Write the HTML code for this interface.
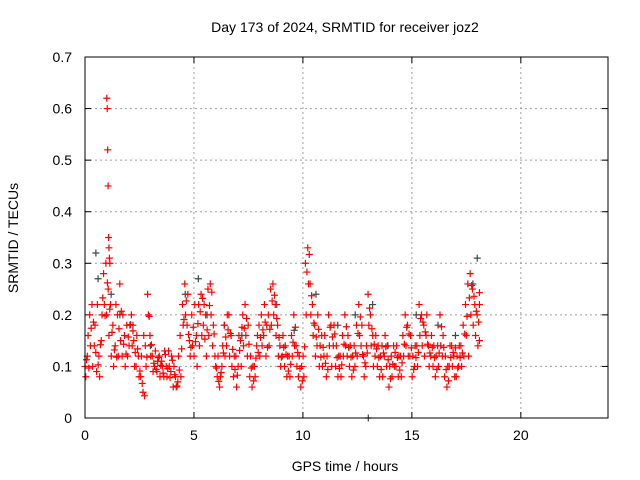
<!DOCTYPE html>
<html><head><meta charset="utf-8"><style>
body{margin:0;background:#fff;}
svg{display:block;font-family:"Liberation Sans",sans-serif;}
</style></head><body>
<svg id="chart" width="640" height="480">
<text x="345" y="32" font-size="14" text-anchor="middle">Day 173 of 2024, SRMTID for receiver joz2</text>
<text x="345" y="471" font-size="14" text-anchor="middle">GPS time / hours</text>
<text transform="translate(18,238) rotate(-90)" font-size="14" text-anchor="middle">SRMTID / TECUs</text>
<g id="grid"></g>
<g id="ticks"></g>
<g id="gray"></g>
<g id="red"></g>
<rect x="85" y="57" width="523" height="361" fill="none" stroke="#000" stroke-width="1"/>
</svg>
<script>
const xTicks=[0,5,10,15,20];
const yTicks=[0,0.1,0.2,0.3,0.4,0.5,0.6,0.7];
const yTickLabels=["0","0.1","0.2","0.3","0.4","0.5","0.6","0.7"];
const seriesStart=0;
const seriesEnd=18.1;
const red1=[0.10,0.12,0.20,0.22,0.14,0.09,0.12,0.15,0.28,0.30,0.25,0.22,0.18,0.14,0.20,0.26,0.12,0.16,0.18,0.14,0.20,0.15,0.10,0.12,0.08,0.05,0.14,0.24,0.16,0.12,
0.10,0.09,0.12,0.11,0.08,0.10,0.13,0.09,0.06,0.08,0.07,0.16,0.22,0.26,0.18,0.15,0.20,0.12,0.16,0.22,0.24,0.18,0.20,0.25,0.26,0.14,0.12,0.08,0.06,0.10,
0.18,0.14,0.20,0.16,0.08,0.12,0.10,0.15,0.20,0.22,0.12,0.08,0.06,0.10,0.14,0.18,0.20,0.16,0.12,0.20,0.25,0.26,0.22,0.18,0.14,0.12,0.10,0.08,0.12,0.16,
0.20,0.14,0.08,0.06,0.12,0.30,0.33,0.26,0.22,0.18,0.14,0.10,0.16,0.12,0.08,0.20,0.18,0.14,0.10,0.08,0.12,0.16,0.20,0.12,0.10,0.08,0.14,0.18,0.22,0.14,
0.12,0.10,0.24,0.20,0.16,0.12,0.10,0.08,0.14,0.12,0.10,0.06,0.12,0.14,0.10,0.08,0.12,0.16,0.20,0.18,0.12,0.08,0.10,0.14,0.22,0.20,0.18,0.16,0.14,0.12,
0.10,0.08,0.14,0.20,0.12,0.08,0.06,0.10,0.14,0.12,0.08,0.10,0.14,0.18,0.22,0.26,0.28,0.25,0.22,0.20,0.22];
const red2=[0.08,0.16,0.14,0.10,0.18,0.22,0.08,0.20,0.22,0.20,0.16,0.12,0.10,0.22,0.12,0.15,0.20,0.10,0.12,0.18,0.14,0.10,0.16,0.08,0.12,0.16,0.10,0.20,0.12,0.09,
0.13,0.11,0.08,0.10,0.13,0.08,0.10,0.12,0.10,0.06,0.12,0.08,0.18,0.20,0.24,0.12,0.14,0.22,0.10,0.14,0.16,0.22,0.12,0.16,0.20,0.18,0.10,0.12,0.08,0.14,
0.12,0.20,0.12,0.10,0.12,0.06,0.16,0.10,0.14,0.16,0.18,0.12,0.10,0.08,0.16,0.12,0.14,0.22,0.18,0.14,0.18,0.20,0.16,0.12,0.10,0.16,0.14,0.12,0.08,0.12,
0.14,0.10,0.12,0.10,0.08,0.20,0.26,0.20,0.16,0.12,0.20,0.14,0.10,0.16,0.12,0.14,0.10,0.18,0.14,0.12,0.08,0.12,0.14,0.16,0.14,0.12,0.10,0.12,0.16,0.18,
0.08,0.14,0.18,0.14,0.10,0.16,0.14,0.12,0.08,0.16,0.14,0.10,0.08,0.10,0.14,0.12,0.08,0.12,0.14,0.12,0.16,0.12,0.14,0.10,0.16,0.14,0.12,0.20,0.10,0.16,
0.14,0.12,0.10,0.14,0.16,0.12,0.10,0.14,0.10,0.08,0.12,0.14,0.10,0.12,0.16,0.12,0.20,0.18,0.16,0.14,0.15];
const red3=[0.113,0.097,0.174,0.186,0.127,0.103,0.142,0.233,0.198,0.262,0.211,0.166,0.132,0.118,0.173,0.207,0.143,0.124,0.157,0.181,0.169,0.127,0.134,0.091,0.067,0.043,0.118,0.197,0.142,0.106,
0.094,0.117,0.102,0.087,0.123,0.096,0.078,0.112,0.084,0.062,0.093,0.134,0.191,0.227,0.162,0.137,0.176,0.148,0.183,0.206,0.232,0.153,0.171,0.218,0.244,0.163,0.097,0.071,0.088,0.126,
0.157,0.171,0.164,0.133,0.094,0.083,0.131,0.176,0.174,0.193,0.143,0.097,0.072,0.116,0.127,0.156,0.171,0.186,0.137,0.172,0.227,0.238,0.193,0.156,0.118,0.137,0.123,0.091,0.104,0.147,
0.176,0.127,0.096,0.072,0.138,0.283,0.317,0.237,0.184,0.157,0.172,0.118,0.137,0.106,0.094,0.176,0.157,0.163,0.117,0.096,0.103,0.143,0.177,0.137,0.118,0.093,0.126,0.164,0.196,0.123,
0.107,0.126,0.213,0.173,0.143,0.134,0.117,0.094,0.126,0.138,0.113,0.076,0.104,0.127,0.117,0.093,0.107,0.143,0.176,0.163,0.136,0.094,0.117,0.127,0.193,0.186,0.167,0.143,0.126,0.137,
0.117,0.094,0.126,0.177,0.137,0.094,0.072,0.117,0.127,0.136,0.097,0.117,0.126,0.163,0.197,0.233,0.257,0.236,0.207,0.186,0.243];
const spikeTimes=[1.0,1.02,1.04,1.06,1.08,1.1,1.12,1.14];
const spikeValues=[0.62,0.60,0.52,0.45,0.35,0.33,0.31,0.30];
const grayTimes=[0.5,0.6,1.2,1.6,2.2,3.0,4.6,5.2,5.6,6.4,7.2,8.8,9.6,10.6,11.6,12.4,13.2,13.9,15.2,16.2,17.0,17.8,18.0,13.0];
const grayValues=[0.32,0.27,0.24,0.20,0.18,0.14,0.24,0.27,0.20,0.18,0.16,0.22,0.17,0.24,0.18,0.20,0.22,0.14,0.20,0.18,0.16,0.26,0.31,0.0];
const X0=85,X1=608,Y0=418,Y1=57;
const xs=v=>X0+v/24*(X1-X0);
const ys=v=>Y0-v/0.7*(Y0-Y1);
const NS="http://www.w3.org/2000/svg";
function mk(tag,attrs,parent){const e=document.createElementNS(NS,tag);for(const k in attrs)e.setAttribute(k,attrs[k]);parent.appendChild(e);return e;}
const grid=document.getElementById('grid'),ticks=document.getElementById('ticks');
xTicks.forEach(t=>{const x=xs(t);
 if(t>0){const l=mk('line',{x1:x,x2:x,y1:Y1,y2:Y0,stroke:'#a0a0a0','stroke-dasharray':'2,3'},grid);}
 const tl=mk('line',{x1:x,x2:x,y1:Y0,y2:Y0-6,stroke:'#000'},ticks);
 const tt=mk('line',{x1:x,x2:x,y1:Y1,y2:Y1+6,stroke:'#000'},ticks);
 const tx=mk('text',{x:x,y:Y0+22,'font-size':14,'text-anchor':'middle'},ticks);tx.textContent=String(t);});
yTicks.forEach((t,i)=>{const y=ys(t);
 if(t>0&&t<0.7){const l=mk('line',{x1:X0,x2:X1,y1:y,y2:y,stroke:'#a0a0a0','stroke-dasharray':'2,3'},grid);}
 const tl=mk('line',{x1:X0,x2:X0+6,y1:y,y2:y,stroke:'#000'},ticks);
 const tr=mk('line',{x1:X1,x2:X1-6,y1:y,y2:y,stroke:'#000'},ticks);
 const tx=mk('text',{x:X0-13,y:y+5,'font-size':14,'text-anchor':'end'},ticks);tx.textContent=yTickLabels[i];});
function plus(g,t,v,color,name){const x=xs(t),y=ys(v);
 const p=mk('path',{d:`M${x-3.5},${y}h7M${x},${y-3.5}v7`,stroke:color,'stroke-width':1.2,fill:'none'},g);
 
 }
const gg=document.getElementById('gray'),rg=document.getElementById('red');
grayTimes.forEach((t,i)=>plus(gg,t,grayValues[i],'#3a4a4a','gray-point'));
function drawSeries(arr,offset){const step=(seriesEnd-seriesStart)/(arr.length-1);
 arr.forEach((v,i)=>plus(rg,Math.min(seriesEnd,seriesStart+i*step+offset),v,'#ff0000','red-point'));}
drawSeries(red1,0);
drawSeries(red2,0.035);
drawSeries(red3,0.07);
spikeTimes.forEach((t,i)=>plus(rg,t,spikeValues[i],'#ff0000','red-spike-point'));
</script>
</body></html>
